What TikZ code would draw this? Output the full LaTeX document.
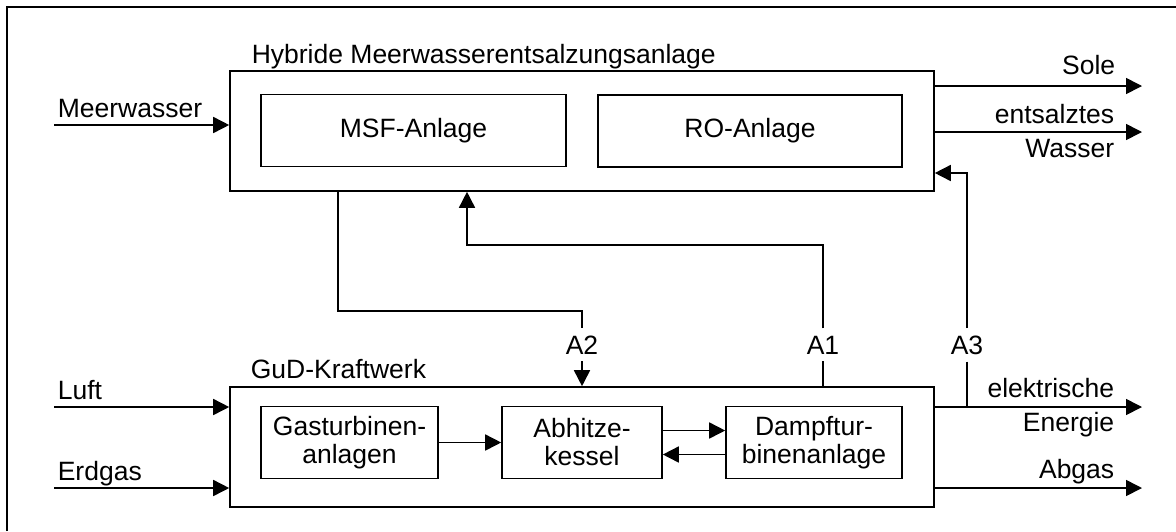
\documentclass[tikz,border=0pt]{standalone}
\usepackage{fontspec}
\setmainfont{Liberation Sans}
\usetikzlibrary{arrows.meta,positioning,calc}

\begin{document}
\begin{tikzpicture}[
  x=0.5pt, y=-0.5pt,
  font=\fontsize{13.25}{14}\selectfont,
  line width=0.8pt,
  plantbox/.style={rectangle, draw, minimum width=352pt, minimum height=60pt, inner sep=0pt},
  subbox/.style={rectangle, draw, minimum height=36pt, inner sep=0pt, align=center},
  lbl/.style={inner sep=0pt},
  couple/.style={inner sep=3.3pt, anchor=base},
  flow/.style={-{Triangle[length=8pt,width=8pt]}},
  outline/.style={line width=1.1pt}
]
\useasboundingbox (0,0) rectangle (1176,531);
\draw[outline] (7,531) -- (7,7) -- (1176,7);

% desalination plant
\node[plantbox] (hybrid) at (582,131) {};
\node[lbl, anchor=base west] (hybrid-l) at (251,63) {Hybride Meerwasserentsalzungsanlage};
\node[subbox, minimum width=152.5pt] (msf) at (413.5,130.5) {MSF-Anlage};
\node[subbox, minimum width=152pt] (ro) at (750,131) {RO-Anlage};

% combined cycle plant
\node[plantbox] (gud) at (582,447) {};
\node[lbl, anchor=base west] (gud-l) at (250,378) {GuD-Kraftwerk};
\node[subbox, minimum width=88.5pt] (gt) at (349.5,442.5) {Gasturbinen-\\anlagen};
\node[subbox, minimum width=80pt] (ak) at (582,442.5) {Abhitze-\\kessel};
\node[subbox, minimum width=88pt] (dt) at (814,442.5) {Dampftur-\\binenanlage};

\draw[flow] (gt) -- (ak);
\draw[flow] ([yshift=6pt]ak.east) -- ([yshift=6pt]dt.west);
\draw[flow] ([yshift=-6pt]dt.west) -- ([yshift=-6pt]ak.east);

% streams in and out
\coordinate (mw) at (54,125);
\coordinate (luft) at (54,407);
\coordinate (erdgas) at (54,488);
\coordinate (sole) at (1142,86);
\coordinate (wasser) at (1142,132);
\coordinate (strom) at (1142,407);
\coordinate (abgas) at (1142,488);

\draw[flow] (mw) -- (mw -| hybrid.west);
\draw[flow] (luft) -- (luft -| gud.west);
\draw[flow] (erdgas) -- (erdgas -| gud.west);
\draw[flow] (sole -| hybrid.east) -- (sole);
\draw[flow] (wasser -| hybrid.east) -- (wasser);
\draw[flow] (strom -| gud.east) -- (strom);
\draw[flow] (abgas -| gud.east) -- (abgas);

\node[lbl, anchor=base west] (mw-l) at (57,117) {Meerwasser};
\node[lbl, anchor=base west] (luft-l) at (57,399) {Luft};
\node[lbl, anchor=base west] (erdgas-l) at (57,480) {Erdgas};
\node[lbl, anchor=base east] (sole-l) at (1116,74) {Sole};
\node[lbl, anchor=base east] (wasser-l1) at (1115,123) {entsalztes};
\node[lbl, anchor=base east] (wasser-l2) at (1115,157) {Wasser};
\node[lbl, anchor=base east] (strom-l1) at (1115,397) {elektrische};
\node[lbl, anchor=base east] (strom-l2) at (1115,431) {Energie};
\node[lbl, anchor=base east] (abgas-l) at (1115,478) {Abgas};

% couplings between both plants
\node[couple] (a1) at (823,354) {A1};
\node[couple] (a2) at (582,354) {A2};
\node[couple] (a3) at (967,354) {A3};

\coordinate (a2bend) at (338,311);
\draw (a2bend |- hybrid.south) -- (a2bend) -| (a2.north);
\draw[flow] (a2.south) -- (gud.north);

\coordinate (a1bend) at (467,245);
\draw (a1.south) -- (a1.south |- gud.north);
\draw[flow] (a1.north) |- (a1bend) -- (a1bend |- hybrid.south);

\coordinate (a3bend) at (967,173);
\draw (a3.south) -- (a3.south |- strom);
\draw[flow] (a3.north) -- (a3bend) -- (a3bend -| hybrid.east);
\end{tikzpicture}
\end{document}
